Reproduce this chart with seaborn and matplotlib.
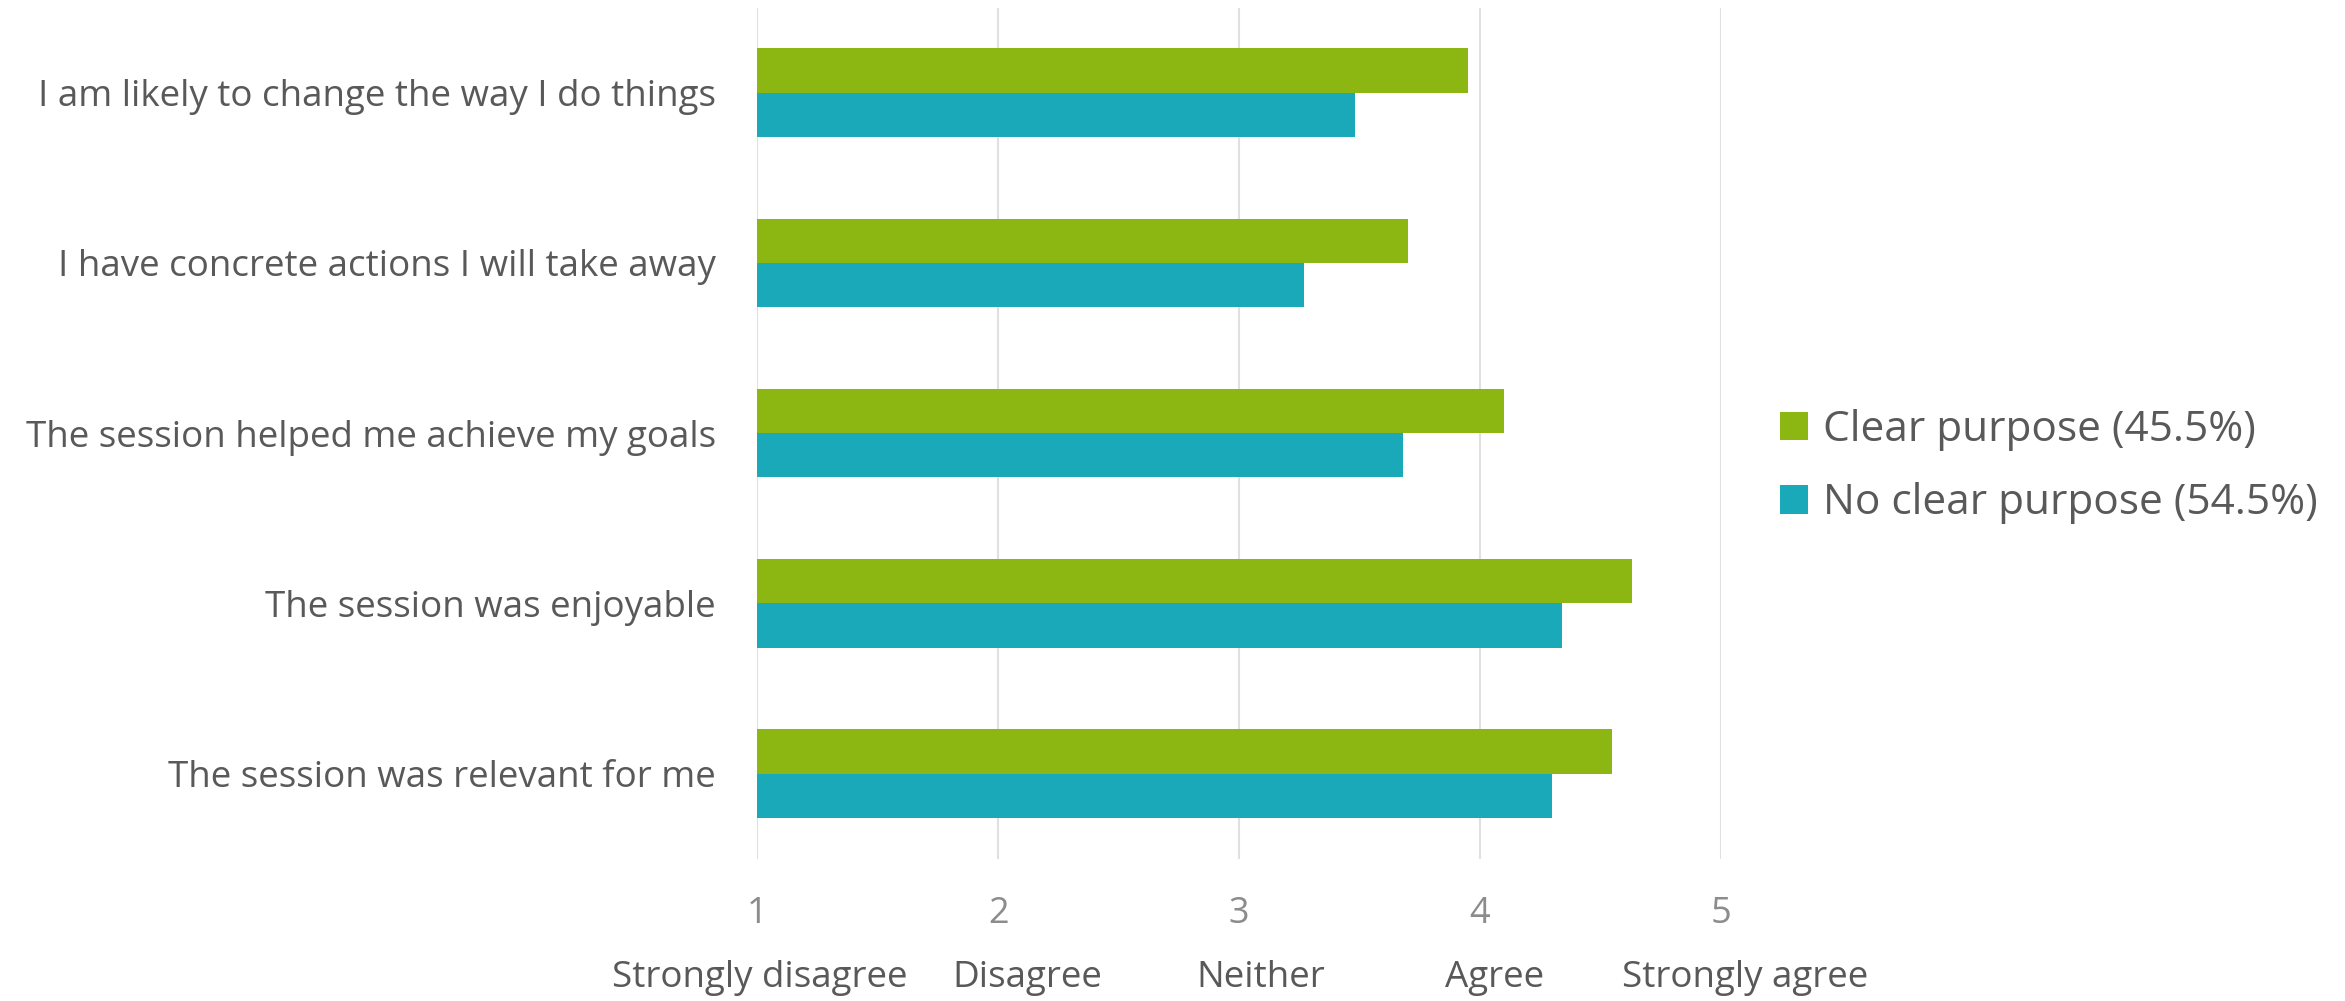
import matplotlib
matplotlib.use("Agg")
import matplotlib.pyplot as plt
import seaborn as sns
import pandas as pd

# Werte
statements = [
    "I am likely to change the way I do things",
    "I have concrete actions I will take away",
    "The session helped me achieve my goals",
    "The session was enjoyable",
    "The session was relevant for me",
]
clear_purpose = [3.95, 3.70, 4.10, 4.63, 4.55]
no_clear_purpose = [3.48, 3.27, 3.68, 4.34, 4.30]
groups = ["Clear purpose (45.5%)", "No clear purpose (54.5%)"]
scale_ticks = [1, 2, 3, 4, 5]
scale_labels = ["Strongly disagree", "Disagree", "Neither", "Agree", "Strongly agree"]
# die Textlabels sitzen im Original leicht rechts neben den Zahlen
scale_label_pos = [1.01, 2.12, 3.09, 4.06, 5.10]

df = pd.DataFrame({
    "statement": statements * 2,
    "score": clear_purpose + no_clear_purpose,
    "group": [groups[0]] * len(statements) + [groups[1]] * len(statements),
})

sns.set_style("white")
plt.rcParams["font.family"] = ["Open Sans", "DejaVu Sans"]

fig = plt.figure(figsize=(23.45, 10.01), dpi=100)
ax = fig.add_axes([0.323, 0.142, 0.4108, 0.8505])

sns.barplot(data=df, y="statement", x="score", hue="group", orient="h",
            order=statements, hue_order=groups,
            palette=["#8CB712", "#19A9B9"], saturation=1, width=0.52,
            linewidth=0, ax=ax)

ax.set_xlim(1, 5)
ax.set_xticks(scale_ticks)
ax.set_xticklabels([str(t) for t in scale_ticks], fontsize=26, color="#8C8C8C")
ax.tick_params(axis="x", length=0, pad=27)
ax.tick_params(axis="y", length=0, pad=30, labelsize=26.5, labelcolor="#595959")
ax.set_xlabel("")
ax.set_ylabel("")
ax.grid(axis="x", color="#E0E0E0", linewidth=1.5)
ax.set_axisbelow(True)
for s in ax.spines.values():
    s.set_visible(False)

# Zweite Beschriftungsreihe unter den Zahlen
trans = ax.get_xaxis_transform()
for pos, lab in zip(scale_label_pos, scale_labels):
    ax.text(pos, -0.14, lab, transform=trans, ha="center", va="center",
            fontsize=26.5, color="#595959", clip_on=False)

ax.legend(loc="center left", bbox_to_anchor=(0.743, 0.534),
          bbox_transform=fig.transFigure, frameon=False, fontsize=30.5,
          labelcolor="#595959", handlelength=0.65, handleheight=0.65,
          handletextpad=0.35, labelspacing=0.75)

fig.savefig("out.png", dpi=100, facecolor="white")
